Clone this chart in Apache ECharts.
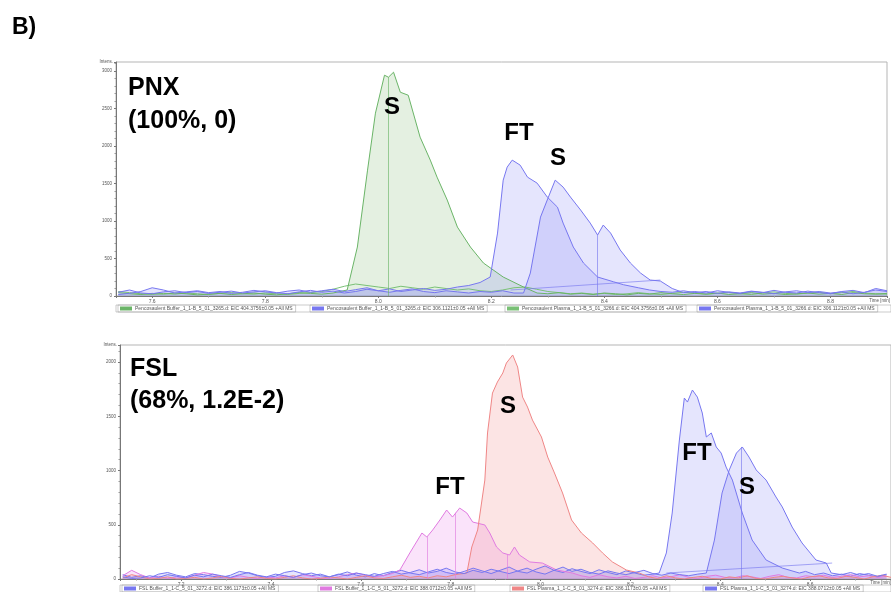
<!DOCTYPE html>
<html><head><meta charset="utf-8">
<script src="https://cdn.jsdelivr.net/npm/echarts@6/dist/echarts.min.js"></script>
<style>html,body{margin:0;padding:0;background:#fff}#c{width:891px;height:592px}</style>
</head><body><div id="c"></div>
<script>
// ---------- TOP PANEL (PNX) ----------
const topNames = [
  'Pencosaulent Buffer_1_1-B_5_01_3265.d: EIC 404.3756\u00b10.05 +All MS',
  'Pencosaulent Buffer_1_1-B_5_01_3265.d: EIC 306.1121\u00b10.05 +All MS',
  'Pencosaulent Plasma_1_1-B_5_01_3266.d: EIC 404.3756\u00b10.05 +All MS',
  'Pencosaulent Plasma_1_1-B_5_01_3266.d: EIC 306.1121\u00b10.05 +All MS'
];
const tG1 = [7.54,7.56,7.58,7.60,7.62,7.64,7.66,7.68,7.70,7.72,7.74,7.76,7.78,7.80,7.82,7.84,7.86,7.88,7.90,7.92,
  7.945,7.963,7.981,7.995,8.011,8.018,8.027,8.039,8.053,8.074,8.092,8.104,8.122,8.140,8.163,8.186,8.221,8.257,8.281,
  8.30,8.32,8.34,8.36,8.38,8.40,8.42,8.44,8.46,8.48,8.50,8.52,8.54,8.56,8.58,8.60,8.62,8.64,8.66,8.68,8.70,8.72,8.74,8.76,8.78,8.80,8.82,8.84,8.86,8.88,8.90];
const vG1 = [45,30,20,35,25,40,30,15,25,35,20,30,40,25,15,30,45,35,25,40,
  80,653,1678,2438,2944,2917,2984,2717,2677,2118,1812,1585,1279,919,653,440,253,120,40,
  30,45,25,35,20,40,30,15,35,25,45,30,20,35,25,40,20,30,45,25,35,20,30,40,25,35,20,45,30,25,35];
const tG2 = [7.54,7.56,7.58,7.60,7.62,7.64,7.66,7.68,7.70,7.72,7.74,7.76,7.78,7.80,7.82,7.84,7.86,7.88,7.90,7.92,
  7.94,7.96,7.98,8.00,8.02,8.04,8.06,8.08,8.10,8.12,8.14,8.16,8.18,8.20,8.22,8.24,8.26,8.28,8.30,8.32,
  8.34,8.36,8.38,8.40,8.42,8.44,8.46,8.48,8.50,8.52,8.54,8.56,8.58,8.60,8.62,8.64,8.66,8.68,8.70,8.72,
  8.74,8.76,8.78,8.80,8.82,8.84,8.86,8.88,8.90];
const vG2 = [60,45,30,20,35,25,40,30,20,35,45,30,25,40,30,20,35,45,60,90,
  130,160,140,120,100,130,110,90,120,100,80,95,70,60,80,110,120,90,60,45,
  30,40,25,35,20,30,45,30,20,35,50,40,25,35,45,30,20,40,55,35,
  25,40,50,30,45,60,40,30,25];
const tB1 = [7.54,7.56,7.58,7.60,7.62,7.64,7.66,7.68,7.70,7.72,7.74,7.76,7.78,7.80,7.82,7.84,7.86,7.88,7.90,7.92,7.94,7.96,7.98,8.00,8.02,8.04,8.06,8.08,8.10,8.12,8.14,8.16,8.18,
  8.198,8.211,8.221,8.228,8.237,8.251,8.264,8.281,8.299,8.317,8.327,8.345,8.363,8.388,8.416,8.434,8.46,8.48,
  8.50,8.52,8.54,8.56,8.58,8.60,8.62,8.64,8.66,8.68,8.70,8.72,8.74,8.76,8.78,8.80,8.82,8.84,8.86,8.88,8.90];
const vB1 = [20,35,60,110,80,40,55,70,45,60,35,50,75,55,40,65,80,50,70,90,60,85,110,70,95,60,80,100,75,90,120,140,180,
  253,839,1545,1718,1812,1745,1585,1505,1319,1185,972,653,440,253,190,150,110,80,
  60,50,70,45,60,35,55,40,65,50,30,55,70,45,60,40,55,30,50,80,60];
const tB2 = [7.54,7.56,7.58,7.60,7.62,7.64,7.66,7.68,7.70,7.72,7.74,7.76,7.78,7.80,7.82,7.84,7.86,7.88,7.90,7.92,7.94,7.96,7.98,8.00,8.02,8.04,8.06,8.08,8.10,8.12,8.14,8.16,8.18,8.20,8.22,8.24,
  8.257,8.269,8.287,8.301,8.313,8.327,8.340,8.358,8.375,8.388,8.398,8.411,8.428,8.446,8.464,8.481,8.499,8.52,8.54,
  8.56,8.58,8.60,8.62,8.64,8.66,8.68,8.70,8.72,8.74,8.76,8.78,8.80,8.82,8.84,8.86,8.88,8.90];
const vB2 = [50,80,40,30,55,70,45,60,35,50,65,40,55,70,45,30,55,75,50,65,40,60,90,70,50,75,95,60,45,70,55,40,60,50,70,40,
  40,306,1052,1319,1545,1452,1319,1146,972,813,946,839,613,440,306,213,200,100,45,
  60,40,70,50,35,60,45,75,50,40,65,45,30,60,75,45,100,70];
// peak drop-lines [series, time, height] and integration baseline [t0,v0,t1,v1]
const topDrops = [['g1',8.018,2917],['b2',8.388,813]];
const topBase = [8.234,80,8.499,213];

// ---------- BOTTOM PANEL (FSL) ----------
const botNames = [
  'FSL Buffer_1_1-C_5_01_3272.d: EIC 386.1173\u00b10.05 +All MS',
  'FSL Buffer_1_1-C_5_01_3272.d: EIC 388.0712\u00b10.05 +All MS',
  'FSL Plasma_1_1-C_5_01_3274.d: EIC 386.1173\u00b10.05 +All MS',
  'FSL Plasma_1_1-C_5_01_3274.d: EIC 388.0712\u00b10.05 +All MS'
];
const tP1 = [7.07,7.09,7.11,7.13,7.15,7.17,7.19,7.21,7.23,7.25,7.27,7.29,7.31,7.33,7.35,7.37,7.39,7.41,7.43,7.45,7.47,7.49,7.51,7.53,7.55,7.57,7.59,7.61,7.63,7.65,7.67,
  7.687,7.709,7.736,7.747,7.760,7.776,7.791,7.804,7.820,7.836,7.849,7.876,7.887,7.902,7.916,7.931,7.942,7.953,7.976,8.004,8.036,8.071,
  8.09,8.11,8.13,8.15,8.17,8.19,8.21,8.23,8.25,8.27,8.29,8.31,8.33,8.35,8.37,8.39,8.41,8.43,8.45,8.47,8.49,8.51,8.53,8.55,8.57,8.59,8.61,8.63,8.65,8.67,8.69,8.71,8.73,8.75,8.77];
const vP1 = [30,80,40,10,25,5,20,10,35,60,45,20,10,30,15,5,20,10,30,15,40,25,10,5,20,40,55,35,20,30,50,
  83,240,424,387,452,544,636,571,654,608,525,498,424,295,240,221,295,221,157,147,83,55,
  30,15,40,20,10,25,5,15,30,10,20,40,15,5,25,35,15,10,30,20,5,25,40,15,10,30,20,35,15,25,40,20,30,15,25];
const tR1 = [7.07,7.09,7.11,7.13,7.15,7.17,7.19,7.21,7.23,7.25,7.27,7.29,7.31,7.33,7.35,7.37,7.39,7.41,7.43,7.45,7.47,7.49,7.51,7.53,7.55,7.57,7.59,7.61,7.63,7.65,7.67,7.69,7.71,7.73,7.75,7.77,7.79,7.81,
  7.836,7.847,7.860,7.876,7.882,7.893,7.904,7.916,7.924,7.938,7.949,7.960,7.971,7.982,8.002,8.016,8.031,8.049,8.069,8.091,8.116,8.138,8.160,8.191,8.220,
  8.24,8.26,8.28,8.30,8.32,8.34,8.36,8.38,8.40,8.42,8.44,8.46,8.48,8.50,8.52,8.54,8.56,8.58,8.60,8.62,8.64,8.66,8.68,8.70,8.72,8.74,8.76,8.78];
const vR1 = [10,40,20,0,5,20,0,5,15,0,10,25,5,0,10,20,5,0,15,30,10,0,5,20,10,0,15,30,10,5,20,35,15,25,10,30,20,40,
  55,295,452,912,1346,1714,1816,1899,1991,2065,1954,1677,1585,1465,1309,1124,977,793,544,424,332,240,157,83,55,
  20,5,30,10,0,15,25,5,0,20,10,30,5,0,15,25,10,0,20,30,10,5,25,15,0,20,35,15];
const tB3 = [7.07,7.09,7.11,7.13,7.15,7.17,7.19,7.21,7.23,7.25,7.27,7.29,7.31,7.33,7.35,7.37,7.39,7.41,7.43,7.45,7.47,7.49,7.51,7.53,7.55,7.57,7.59,7.61,7.63,7.65,
  7.67,7.69,7.71,7.73,7.75,7.77,7.79,7.81,7.83,7.85,7.87,7.89,7.91,7.93,7.95,7.97,7.99,8.01,8.03,8.05,8.07,8.09,8.11,8.13,8.15,8.17,8.19,8.21,8.23,8.25,
  8.264,8.280,8.293,8.309,8.320,8.327,8.338,8.349,8.360,8.369,8.380,8.391,8.402,8.413,8.427,8.449,8.471,8.502,8.538,8.576,
  8.59,8.61,8.63,8.65,8.67,8.69,8.71,8.73,8.75,8.77];
const vB3 = [40,15,30,10,45,60,35,20,50,40,25,15,35,70,55,30,15,25,60,75,50,30,45,20,40,65,35,20,50,30,
  60,80,55,40,65,90,60,45,70,100,75,50,80,110,70,55,90,120,80,60,95,70,50,85,60,40,75,55,35,45,
  55,240,608,1281,1668,1631,1742,1677,1530,1309,1346,1217,1161,1032,912,608,359,175,101,55,
  70,40,55,30,45,25,50,35,20,40];
const tB4 = [7.07,7.09,7.11,7.13,7.15,7.17,7.19,7.21,7.23,7.25,7.27,7.29,7.31,7.33,7.35,7.37,7.39,7.41,7.43,7.45,7.47,7.49,7.51,7.53,7.55,7.57,7.59,7.61,7.63,7.65,
  7.67,7.69,7.71,7.73,7.75,7.77,7.79,7.81,7.83,7.85,7.87,7.89,7.91,7.93,7.95,7.97,7.99,8.01,8.03,8.05,8.07,8.09,8.11,8.13,8.15,8.17,8.19,8.21,8.23,8.25,8.27,8.29,8.31,8.33,8.35,
  8.369,8.387,8.404,8.420,8.436,8.449,8.464,8.480,8.502,8.524,8.538,8.560,8.582,8.613,8.636,8.647,
  8.67,8.69,8.71,8.73,8.75,8.77];
const vB4 = [20,5,10,30,15,40,25,10,35,20,45,30,15,40,60,35,20,45,30,15,40,55,30,20,45,30,55,40,25,50,
  70,45,60,85,55,70,100,65,50,80,60,90,70,50,75,100,65,45,80,110,70,90,60,45,75,55,40,60,80,50,35,55,40,30,45,
  55,359,793,1005,1161,1217,1124,1005,912,756,664,479,332,175,147,55,
  40,60,35,50,25,45];
const botDrops = [['p1',7.747,387],['p1',7.811,610],['p1',7.927,221],['b4',8.447,1217]];
const botBase = [8.280,55,8.649,147];

// ---------- styles ----------
const C = {
  g1:{line:'#6ab467', fill:'rgba(115,180,100,0.28)'},
  g2:{line:'#79c075', fill:'rgba(120,185,110,0.0)'},
  b1:{line:'#7777f0', fill:'rgba(120,120,245,0.28)'},
  b2:{line:'#7777f0', fill:'rgba(120,120,245,0.28)'},
  p1:{line:'#e07ae0', fill:'rgba(232,125,232,0.30)'},
  r1:{line:'#ef8686', fill:'rgba(243,135,135,0.32)'},
  b3:{line:'#7777f0', fill:'rgba(120,120,245,0.28)'},
  b4:{line:'#7777f0', fill:'rgba(120,120,245,0.28)'}
};
const zip = (t,v)=>t.map((x,i)=>[x,v[i]]);
const FONT = '"Liberation Sans", Arial, sans-serif';

function mkSeries(key, name, t, v, gi, drops, base){
  const ml = [];
  drops.filter(d=>d[0]===key).forEach(d=>ml.push([{coord:[d[1],0]},{coord:[d[1],d[2]]}]));
  if (base) ml.push([{coord:[base[0],base[1]]},{coord:[base[2],base[3]]}]);
  return {
    type:'line', name, xAxisIndex:gi, yAxisIndex:gi, data:zip(t,v),
    showSymbol:false, smooth:false, animation:false, silent:true,
    lineStyle:{color:C[key].line, width:1},
    itemStyle:{color:C[key].line},
    areaStyle:{color:C[key].fill, origin:'start'},
    markLine: ml.length ? {silent:true, symbol:'none', animation:false, label:{show:false},
      lineStyle:{color:C[key].line, width:0.8, type:'solid', opacity:0.8}, data:ml} : undefined
  };
}

const series = [
  mkSeries('g2', topNames[2], tG2, vG2, 0, topDrops),
  mkSeries('g1', topNames[0], tG1, vG1, 0, topDrops),
  mkSeries('b1', topNames[1], tB1, vB1, 0, topDrops),
  mkSeries('b2', topNames[3], tB2, vB2, 0, topDrops, topBase),
  mkSeries('b3', botNames[0], tB3, vB3, 1, botDrops, botBase),
  mkSeries('p1', botNames[1], tP1, vP1, 1, botDrops),
  mkSeries('r1', botNames[2], tR1, vR1, 1, botDrops),
  mkSeries('b4', botNames[3], tB4, vB4, 1, botDrops)
];

function xAx(gi, min, max, split){
  return {gridIndex:gi, type:'value', min, max, splitNumber:split,
    axisLine:{show:true, onZero:false, lineStyle:{color:'#777', width:1}},
    axisTick:{show:true, length:2, lineStyle:{color:'#777'}},
    minorTick:{show:true, splitNumber:2, length:1.5, lineStyle:{color:'#999'}},
    splitLine:{show:false},
    axisLabel:{fontSize:5, color:'#555', margin:3, fontFamily:FONT, showMinLabel:false, showMaxLabel:false,
      formatter:v=>v.toFixed(1)}};
}
function yAx(gi, max){
  return {gridIndex:gi, type:'value', min:0, max, interval:500,
    axisLine:{show:true, lineStyle:{color:'#777', width:1}},
    axisTick:{show:true, length:2, lineStyle:{color:'#777'}},
    minorTick:{show:true, splitNumber:5, length:1.5, lineStyle:{color:'#999'}},
    splitLine:{show:false},
    axisLabel:{fontSize:4.5, color:'#555', margin:4, fontFamily:FONT, showMaxLabel:false,
      formatter:v=>String(v)}};
}

function legendAt(name, left, top){
  return {data:[name], left, top, icon:'rect', itemWidth:12, itemHeight:4, itemGap:0,
    padding:[1,3,1,2], selectedMode:false, borderColor:'#aaa', borderWidth:0.6,
    textStyle:{fontSize:5, color:'#555', fontFamily:FONT, padding:[0,0,0,-2]}};
}
const legends = [
  legendAt(topNames[0],118,305), legendAt(topNames[1],310,305), legendAt(topNames[2],505,305), legendAt(topNames[3],697,305),
  legendAt(botNames[0],122,585), legendAt(botNames[1],318,585), legendAt(botNames[2],510,585), legendAt(botNames[3],703,585)
];

function txt(text, x, y, size, align){
  return {type:'text', x, y, silent:true, z:100,
    style:{text, fill:'#000', font:'bold '+size+'px '+FONT, fontSize:size, fontWeight:'bold', fontFamily:FONT,
      textAlign:align||'left', align:align||'left', textVerticalAlign:'middle', verticalAlign:'middle'}};
}
function small(text, x, y, align){
  return {type:'text', x, y, silent:true, z:100,
    style:{text, fill:'#555', fontSize:4.5, fontFamily:FONT, textAlign:align||'left', align:align||'left',
      textVerticalAlign:'middle', verticalAlign:'middle'}};
}

const chart = echarts.init(document.getElementById('c'), null, {renderer:'canvas'});
chart.setOption({
  animation:false,
  backgroundColor:'#fff',
  grid:[
    {left:116, top:62, width:771, height:234, show:true, borderColor:'#b5b5b5', borderWidth:1},
    {left:120, top:345, width:772, height:234, show:true, borderColor:'#b5b5b5', borderWidth:1}
  ],
  xAxis:[xAx(0,7.536,8.9,7), xAx(1,7.064,8.78,8)],
  yAxis:[yAx(0,3120), yAx(1,2157)],
  legend:legends,
  series,
  graphic:[
    {type:'rect', shape:{x:116,y:305,width:775,height:7}, style:{fill:'none', stroke:'#aaa', lineWidth:0.6}, silent:true},
    {type:'rect', shape:{x:120,y:585,width:771,height:7}, style:{fill:'none', stroke:'#aaa', lineWidth:0.6}, silent:true},
    txt('B)', 12, 28, 23),
    txt('PNX', 128, 88, 25),
    txt('(100%, 0)', 128, 121, 25),
    txt('FSL', 130, 369, 25),
    txt('(68%, 1.2E-2)', 130, 401, 25),
    txt('S', 392, 107, 24, 'center'),
    txt('FT', 519, 133, 24, 'center'),
    txt('S', 558, 158, 24, 'center'),
    txt('S', 508, 406, 24, 'center'),
    txt('FT', 450, 487, 24, 'center'),
    txt('FT', 697, 453, 24, 'center'),
    txt('S', 747, 487, 24, 'center'),
    small('Intens.', 113, 62, 'right'),
    small('Intens.', 117, 345, 'right'),
    small('Time [min]', 890, 301, 'right'),
    small('Time [min]', 891, 583, 'right')
  ]
});
</script></body></html>
